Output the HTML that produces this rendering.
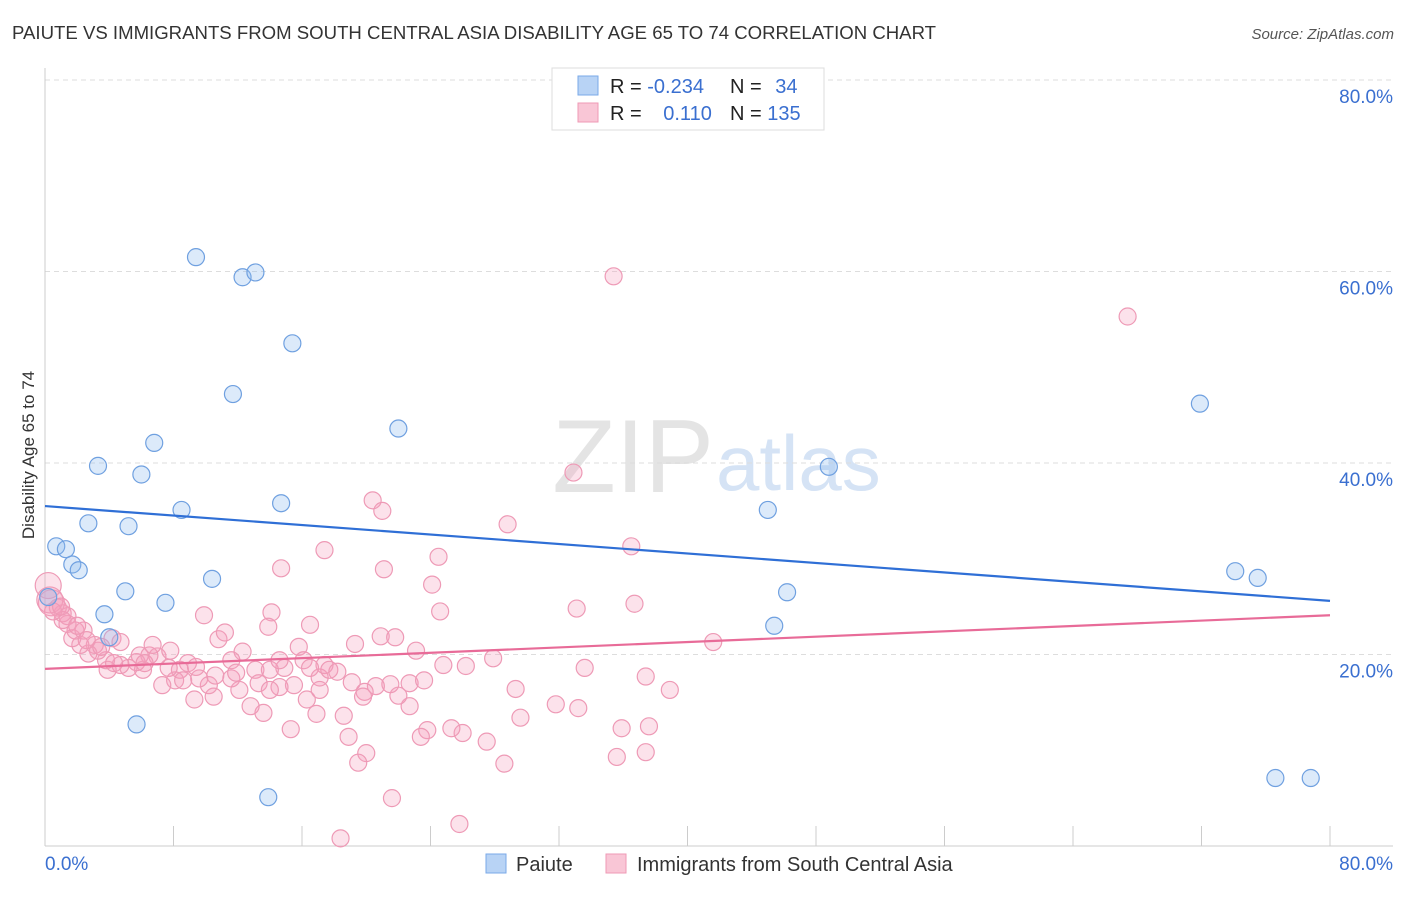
<!DOCTYPE html>
<html><head><meta charset="utf-8"><style>
body{margin:0;background:#fff;font-family:"Liberation Sans",sans-serif;}
svg text{font-family:"Liberation Sans",sans-serif;}
</style></head><body>
<svg id="chart" width="1406" height="892">
<text x="12" y="39" font-size="18.6" fill="#333">PAIUTE VS IMMIGRANTS FROM SOUTH CENTRAL ASIA DISABILITY AGE 65 TO 74 CORRELATION CHART</text>
<text x="1394" y="39" font-size="15" fill="#555" font-style="italic" text-anchor="end">Source: ZipAtlas.com</text>
<text x="714" y="492" font-size="104" fill="#e4e4e4" font-family="Liberation Serif" text-anchor="end">ZIP</text>
<text x="716" y="490" font-size="78" fill="#d5e3f5">atlas</text>
<text transform="translate(34,455) rotate(-90)" font-size="17" fill="#333" text-anchor="middle">Disability Age 65 to 74</text>
<g id="grid"></g><g id="marks"></g>
<g>
<rect x="552" y="68" width="272" height="62" fill="#fff" stroke="#ddd"/>
<rect x="578" y="76" width="20" height="19" fill="#b8d3f5" stroke="#7aaae8"/>
<rect x="578" y="103" width="20" height="19" fill="#f9c6d6" stroke="#ef9ab5"/>
<text x="610" y="93" font-size="20" fill="#222">R = <tspan fill="#3a6fd0">-0.234</tspan></text>
<text x="730" y="93" font-size="20" fill="#222">N = <tspan fill="#3a6fd0" dx="8">34</tspan></text>
<text x="610" y="120" font-size="20" fill="#222">R = <tspan fill="#3a6fd0" dx="16">0.110</tspan></text>
<text x="730" y="120" font-size="20" fill="#222">N = <tspan fill="#3a6fd0">135</tspan></text>
</g>
<g>
<rect x="486" y="854" width="20" height="19" fill="#b8d3f5" stroke="#7aaae8"/>
<text x="516" y="871" font-size="20" fill="#333">Paiute</text>
<rect x="606" y="854" width="20" height="19" fill="#f9c6d6" stroke="#ef9ab5"/>
<text x="637" y="871" font-size="20" fill="#333">Immigrants from South Central Asia</text>
</g>
</svg>
<script>
const yTicks=[20,40,60,80];
const xTickLabels=["0.0%","80.0%"];
const paiuteX=[9.4,12.3,13.1,15.4,11.7,22.0,6.8,3.3,6.0,8.5,14.7,2.7,5.2,0.7,1.3,1.7,2.1,5.0,10.4,7.5,0.2,3.7,4.0,5.7,13.9,45.0,48.8,46.2,45.4,71.9,74.1,75.5,76.6,78.8];
const paiuteY=[61.5,59.4,59.9,52.5,47.2,43.6,42.1,39.7,38.8,35.1,35.8,33.7,33.4,31.3,31.0,29.4,28.8,26.6,27.9,25.4,26.0,24.2,21.8,12.7,5.1,35.1,39.6,26.5,23.0,46.2,28.7,28.0,7.1,7.1];
const immX=[35.4,67.4,32.9,20.4,21.0,28.8,17.4,24.5,36.5,14.7,21.1,24.1,33.1,36.7,24.6,14.1,9.9,13.9,16.5,41.6,20.9,21.8,19.3,23.1,15.8,10.8,11.2,12.3,11.6,27.9,24.8,26.2,33.6,37.4,38.9,29.3,31.8,33.2,29.6,35.9,37.6,37.4,35.6,28.6,27.5,26.0,25.3,23.8,23.4,22.7,22.0,21.5,20.6,19.9,19.8,19.1,18.6,18.9,20.0,19.5,21.6,25.8,18.4,16.9,16.3,17.1,17.4,17.7,15.5,15.3,14.6,13.6,12.8,12.1,13.1,13.3,14.9,11.6,10.5,9.3,10.2,9.6,8.9,8.4,8.1,7.3,7.7,7.0,6.5,6.1,5.7,5.2,4.7,3.9,3.8,3.3,3.1,2.7,2.2,1.7,1.9,2.4,1.4,1.1,0.8,0.4,0.2,0.3,4.2,4.7,5.9,7.8,8.6,14.0,16.1,18.2,22.7,23.6,10.6,9.4,14.0,6.7,6.2,4.3,1.4,2.6,3.5,1.1,17.1,11.9,14.6,16.5,0.5,1.0,2.0];
const immY=[59.5,55.3,39.0,36.1,35.0,33.6,30.9,30.2,31.3,29.0,28.9,27.3,24.8,25.3,24.5,24.4,24.1,22.9,23.1,21.3,21.9,21.8,21.1,20.4,20.8,21.6,22.3,20.3,19.4,19.6,18.9,18.8,18.6,17.7,16.3,16.4,14.8,14.4,13.4,12.3,12.5,9.8,9.3,8.6,10.9,11.8,12.3,12.1,11.4,14.6,15.7,16.9,16.7,16.1,15.6,17.1,13.6,11.4,9.7,8.7,5.0,2.3,0.8,13.8,15.3,17.6,18.9,18.4,16.8,12.2,16.6,13.9,14.6,16.3,18.4,17.0,18.6,17.5,15.6,15.3,16.8,17.5,19.1,18.4,17.3,16.8,18.6,19.8,19.9,18.4,19.2,18.6,18.9,18.4,19.4,20.4,21.0,20.1,21.0,21.7,22.5,22.5,23.2,24.3,24.9,25.4,27.2,25.7,21.7,21.3,19.9,20.4,17.3,18.4,19.4,18.2,17.0,17.3,17.8,18.7,16.3,21.0,19.1,19.1,24.0,21.5,20.8,23.6,16.3,18.1,19.4,18.6,24.5,25.0,23.0];
const trendX=[0,80];
const paiuteTrend=[35.5,25.6];
const immTrend=[18.5,24.1];
const sx=v=>45+v*(1285/80);
const sy=v=>846-v*(766/80);
const NS="http://www.w3.org/2000/svg";
const grid=document.getElementById('grid'),marks=document.getElementById('marks');
function mk(tag,at,parent){const e=document.createElementNS(NS,tag);for(const k in at)e.setAttribute(k,at[k]);parent.appendChild(e);return e;}
yTicks.forEach(t=>{
 const l=mk('line',{x1:45,x2:1393,y1:sy(t),y2:sy(t),stroke:'#ddd','stroke-dasharray':'5,4'},grid);
 
 
 const tx=mk('text',{x:1393,y:sy(t)+23,'font-size':19,fill:'#3a6fd0','text-anchor':'end'},grid);tx.textContent=t.toFixed(1)+'%';
 
 
});
mk('line',{x1:45,x2:45,y1:68,y2:846,stroke:'#ccc'},grid);
const ax=mk('line',{x1:45,x2:1393,y1:846,y2:846,stroke:'#ccc'},grid);


for(let i=0;i<=10;i++){mk('line',{x1:sx(i*8),x2:sx(i*8),y1:826,y2:846,stroke:'#ccc'},grid);}
const xl0=mk('text',{x:45,y:870,'font-size':19,fill:'#3a6fd0'},grid);xl0.textContent=xTickLabels[0];


const xl1=mk('text',{x:1393,y:870,'font-size':19,fill:'#3a6fd0','text-anchor':'end'},grid);xl1.textContent=xTickLabels[1];


immX.forEach((x,i)=>{
 const c=mk('circle',{cx:sx(x),cy:sy(immY[i]),r:(x<0.5?13:8.5),fill:'rgba(244,160,190,0.3)',stroke:'#ee9ab6','stroke-width':1.2},marks);
 
 
});
paiuteX.forEach((x,i)=>{
 const c=mk('circle',{cx:sx(x),cy:sy(paiuteY[i]),r:8.5,fill:'rgba(140,185,240,0.3)',stroke:'#6fa0e0','stroke-width':1.2},marks);
 
 
});
const t1=mk('line',{x1:sx(trendX[0]),x2:sx(trendX[1]),y1:sy(paiuteTrend[0]),y2:sy(paiuteTrend[1]),stroke:'#2f6fd6','stroke-width':2.2},marks);


const t2=mk('line',{x1:sx(trendX[0]),x2:sx(trendX[1]),y1:sy(immTrend[0]),y2:sy(immTrend[1]),stroke:'#e86b98','stroke-width':2.2},marks);


</script>
</body></html>
